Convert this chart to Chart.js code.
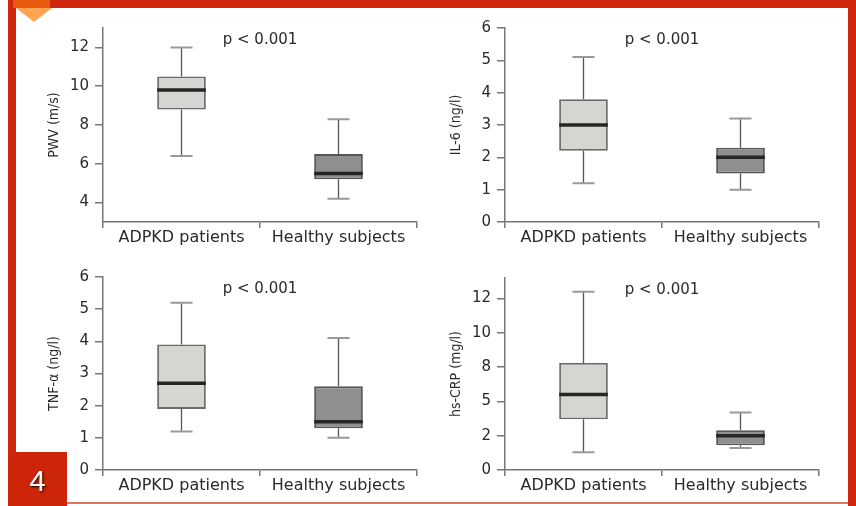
<!DOCTYPE html>
<html>
<head>
<meta charset="utf-8">
<script src="https://cdn.jsdelivr.net/npm/chart.js@4"></script>
<style>
  html, body { margin: 0; padding: 0; background: #fff; }
  #page { position: relative; width: 856px; height: 506px; overflow: hidden; background: #fff; }
  .band { position: absolute; background: #cf260c; }
  canvas { position: absolute; }
  #badge { position: absolute; left: 8px; top: 452px; width: 59px; height: 54px; background: #cc2508;
    color: #fff; font: 29px "Liberation Sans", Arial, sans-serif; text-align: center; line-height: 58px;
    text-shadow: 1px 1px 2px #000; }
  #tri { position: absolute; left: 16px; top: 8px; width: 0; height: 0;
    border-left: 18px solid transparent; border-right: 18px solid transparent; border-top: 14px solid #fda553; }
</style>
</head>
<body>
<div id="page">
  <div class="band" style="left:8px;top:0;width:848px;height:8px"></div>
  <div class="band" style="left:8px;top:0;width:8px;height:452px"></div>
  <div class="band" style="left:848px;top:0;width:8px;height:506px"></div>
  <div class="band" style="left:67px;top:502px;width:781px;height:2px;background:#e2735f"></div>
  <div class="band" style="left:13px;top:0;width:37px;height:8px;background:#ea5a0e"></div>
  <div id="tri"></div>
  <div id="badge">4</div>
  <canvas id="pwv"></canvas>
  <canvas id="il6"></canvas>
  <canvas id="tnf"></canvas>
  <canvas id="crp"></canvas>
</div>
<script>
const groups = ['ADPKD patients', 'Healthy subjects'];

// five-number summaries: [min, q1, median, q3, max]
const pwvAdpkd = [6.4, 8.8, 9.8, 10.5, 12.0];
const pwvHealthy = [4.2, 5.2, 5.5, 6.5, 8.3];
const il6Adpkd = [1.2, 2.2, 3.0, 3.8, 5.1];
const il6Healthy = [1.0, 1.5, 2.0, 2.3, 3.2];
const tnfAdpkd = [1.2, 1.9, 2.7, 3.9, 5.2];
const tnfHealthy = [1.0, 1.3, 1.5, 2.6, 4.1];
const crpAdpkd = [1.3, 3.7, 5.5, 7.8, 13.0];
const crpHealthy = [1.6, 1.8, 2.5, 2.9, 4.2];

// axis ticks
const pwvTicks = [4, 6, 8, 10, 12];
const il6Ticks = [0, 1, 2, 3, 4, 5, 6];
const tnfTicks = [0, 1, 2, 3, 4, 5, 6];
const crpTicks = [0, 2.5, 5, 7.5, 10, 12.5];
const crpTickLabels = ['0', '2', '5', '8', '10', '12'];

const pText = 'p < 0.001';
const axisColor = '#777';
const textColor = '#2a2a2a';

// whiskers, median and p-value on top of the floating bars
const boxPlugin = {
  id: 'boxplot',
  afterDatasetsDraw(chart, args, opts) {
    const { ctx, chartArea, scales: { y } } = chart;
    const ds = chart.data.datasets[0];
    const meta = chart.getDatasetMeta(0);
    ctx.save();
    meta.data.forEach((bar, i) => {
      const [lo, q1, med, q3, hi] = ds.stats[i];
      const x = bar.x, half = bar.width / 2;
      ctx.strokeStyle = '#555';
      ctx.lineWidth = 1.3;
      ctx.beginPath();
      ctx.moveTo(x, y.getPixelForValue(hi));
      ctx.lineTo(x, y.getPixelForValue(q3));
      ctx.moveTo(x, y.getPixelForValue(q1));
      ctx.lineTo(x, y.getPixelForValue(lo));
      ctx.stroke();
      ctx.strokeStyle = '#999';
      ctx.lineWidth = 2;
      ctx.beginPath();
      [hi, lo].forEach(v => {
        const py = y.getPixelForValue(v);
        ctx.moveTo(x - 11, py);
        ctx.lineTo(x + 11, py);
      });
      ctx.stroke();
      ctx.strokeStyle = '#262626';
      ctx.lineWidth = 3.5;
      ctx.beginPath();
      const my = y.getPixelForValue(med);
      ctx.moveTo(x - half, my);
      ctx.lineTo(x + half, my);
      ctx.stroke();
    });
    ctx.fillStyle = textColor;
    ctx.font = '15px "DejaVu Sans", sans-serif';
    ctx.textAlign = 'center';
    ctx.textBaseline = 'middle';
    ctx.fillText(opts.note, (chartArea.left + chartArea.right) / 2, chartArea.top + 12);
    ctx.restore();
  }
};

function makeChart(id, title, adpkd, healthy, min, max, ticks, labels, area) {
  const canvas = document.getElementById(id);
  const padL = 75, padT = 12, padR = 12, padB = 35;
  canvas.width = area.r - area.l + padL + padR;
  canvas.height = area.b - area.t + padT + padB;
  canvas.style.left = (area.l - padL) + 'px';
  canvas.style.top = (area.t - padT) + 'px';
  return new Chart(canvas, {
    type: 'bar',
    data: {
      labels: groups,
      datasets: [{
        data: [[adpkd[1], adpkd[3]], [healthy[1], healthy[3]]],
        stats: [adpkd, healthy],
        backgroundColor: ['#d5d6d1', '#8f8f8d'],
        borderColor: ['#6a6a6a', '#555555'],
        borderWidth: 1.8,
        borderSkipped: false,
        barPercentage: 0.31,
        categoryPercentage: 1
      }]
    },
    options: {
      responsive: false,
      animation: false,
      layout: { padding: { top: padT, right: padR, left: 0, bottom: 0 } },
      plugins: {
        legend: { display: false },
        tooltip: { enabled: false },
        boxplot: { note: pText }
      },
      scales: {
        x: {
          afterFit: s => { s.height = padB; },
          grid: { offset: true, drawOnChartArea: false, tickLength: 6, color: axisColor, lineWidth: 1.5 },
          border: { display: true, color: axisColor, width: 1.5 },
          ticks: { color: textColor, padding: 0, font: { family: 'DejaVu Sans', size: 16 } }
        },
        y: {
          min: min,
          max: max,
          afterFit: s => { s.width = padL; },
          afterBuildTicks: s => { s.ticks = ticks.map(v => ({ value: v })); },
          grid: { drawOnChartArea: false, tickLength: 8, color: axisColor, lineWidth: 1.5 },
          border: { display: true, color: axisColor, width: 1.5 },
          ticks: {
            color: textColor,
            padding: 6,
            font: { family: 'DejaVu Sans', size: 15 },
            callback: (v, i) => labels[i]
          },
          title: {
            display: true,
            text: title,
            color: textColor,
            padding: 18,
            font: { family: '"Liberation Sans Narrow", "DejaVu Sans Condensed", sans-serif', size: 14 }
          }
        }
      }
    },
    plugins: [boxPlugin]
  });
}

makeChart('pwv', 'PWV (m/s)', pwvAdpkd, pwvHealthy, 3, 13, pwvTicks, pwvTicks.map(String),
  { l: 103, r: 417, t: 25, b: 222 });
makeChart('il6', 'IL-6 (ng/l)', il6Adpkd, il6Healthy, 0, 6, il6Ticks, il6Ticks.map(String),
  { l: 505, r: 819, t: 25, b: 222 });
makeChart('tnf', 'TNF-α (ng/l)', tnfAdpkd, tnfHealthy, 0, 6, tnfTicks, tnfTicks.map(String),
  { l: 103, r: 417, t: 274, b: 470 });
makeChart('crp', 'hs-CRP (mg/l)', crpAdpkd, crpHealthy, 0, 14, crpTicks, crpTickLabels,
  { l: 505, r: 819, t: 275, b: 470 });
</script>
</body>
</html>
